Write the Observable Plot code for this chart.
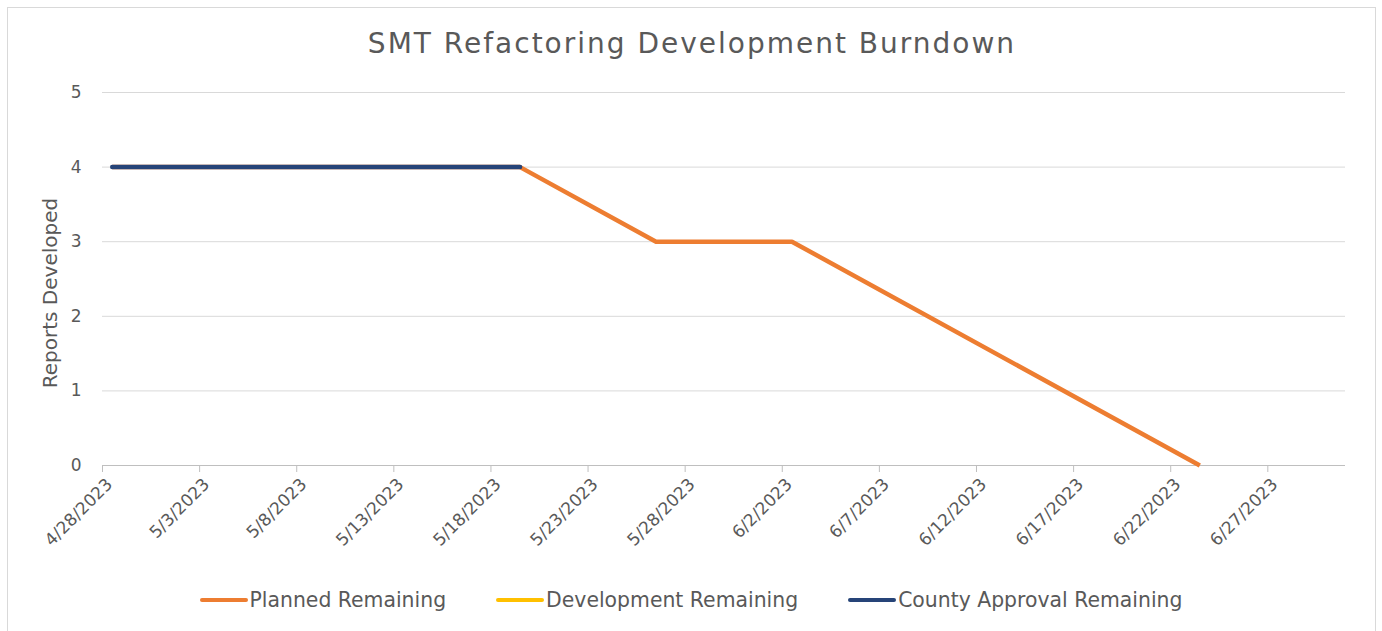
<!DOCTYPE html>
<html><head><meta charset="utf-8">
<script src="https://cdn.jsdelivr.net/npm/d3@7"></script>
<script src="https://cdn.jsdelivr.net/npm/@observablehq/plot@0.6"></script>
<style>
body{margin:0;background:#fff;font-family:"DejaVu Sans",sans-serif;color:#595959;width:1382px;height:631px;overflow:hidden;position:relative}
#frame{position:absolute;left:7px;top:7px;width:1369px;height:640px;border:1px solid #d9d9d9;box-sizing:border-box}
#title{position:absolute;left:0;top:27px;width:1384px;text-align:center;font-size:28px;color:#595959;letter-spacing:2px}
#chart{position:absolute;left:0;top:0}
#legend{position:absolute;left:0;top:588px;width:1382px;display:flex;justify-content:center;gap:50px;font-size:20.4px;color:#595959}
.item{display:flex;align-items:center}
.sw{display:inline-block;width:48px;height:4.5px;border-radius:2px;margin-right:2px}
</style></head><body>
<div id="frame"></div>
<div id="title">SMT Refactoring Development Burndown</div>
<div id="chart"></div>
<div id="legend"></div>
<script>
const seriesNames = ["Planned Remaining","Development Remaining","County Approval Remaining"];
const seriesColors = ["#ED7D31","#FFC000","#264478"];
const plannedDates = ["2023-04-28","2023-05-19","2023-05-26","2023-06-02","2023-06-23"];
const plannedValues = [4,4,3,3,0];
const developmentDates = [];
const developmentValues = [];
const countyDates = ["2023-04-28","2023-05-19"];
const countyValues = [4,4];
const xTickLabels = ["4/28/2023","5/3/2023","5/8/2023","5/13/2023","5/18/2023","5/23/2023","5/28/2023","6/2/2023","6/7/2023","6/12/2023","6/17/2023","6/22/2023","6/27/2023"];
const yTicks = [0,1,2,3,4,5];
const xDomain = ["2023-04-28","2023-07-01"];

const parseISO = d3.utcParse("%Y-%m-%d");
const parseMDY = d3.utcParse("%m/%d/%Y");
const fmt = d3.utcFormat("%-m/%-d/%Y");
const xTicks = xTickLabels.map(parseMDY);
const mk = (dates, vals, name) => dates.map((d,i)=>({date: parseISO(d), value: vals[i], series: name}));
const planned = mk(plannedDates, plannedValues, seriesNames[0]);
const development = mk(developmentDates, developmentValues, seriesNames[1]);
const county = mk(countyDates, countyValues, seriesNames[2]);
const xAt = d => d3.utcHour.offset(d.date, 12);

const chart = Plot.plot({
  width: 1382, height: 560,
  marginLeft: 102, marginRight: 37, marginTop: 92, marginBottom: 95,
  style: {fontFamily: "'DejaVu Sans', sans-serif", fontSize: "15px", color: "#595959", background: "transparent", overflow: "visible"},
  x: {type: "utc", domain: xDomain.map(parseISO)},
  y: {domain: [0,5]},
  marks: [
    Plot.ruleY(yTicks.filter(v=>v>0), {stroke: "#d9d9d9", strokeWidth: 1}),
    Plot.ruleY([0], {stroke: "#bfbfbf", strokeWidth: 1}),
    Plot.axisX({ticks: xTicks, tickFormat: () => "", tickSize: 7, stroke: "#bfbfbf", label: null}),
    Plot.axisX({ticks: xTicks, tickFormat: fmt, tickRotate: -45, tickSize: 0, tickPadding: 16, dx: 7, fill: "#595959", fontSize: 17, label: null}),
    Plot.axisY({ticks: yTicks, tickFormat: d3.format("d"), tickSize: 0, tickPadding: 21, fontSize: 17, fill: "#595959", label: "Reports Developed", labelAnchor: "center", labelArrow: "none", labelOffset: 60}),
    Plot.line(planned, {x: xAt, y: "value", stroke: seriesColors[0], strokeWidth: 4.5, strokeLinecap: "butt"}),
    Plot.line(development, {x: xAt, y: "value", stroke: seriesColors[1], strokeWidth: 4.5}),
    Plot.line(county, {x: xAt, y: "value", stroke: seriesColors[2], strokeWidth: 4.5, strokeLinecap: "round"})
  ]
});
document.getElementById("chart").append(chart);
d3.select(chart).selectAll("g[aria-label='y-axis label'] text").style("font-size","20px").attr("dx", -14);

const legend = d3.select("#legend");
seriesNames.forEach((n,i)=>{
  const it = legend.append("div").attr("class","item");
  it.append("span").attr("class","sw").style("background", seriesColors[i]);
  it.append("span").text(n);
});
</script>
</body></html>
